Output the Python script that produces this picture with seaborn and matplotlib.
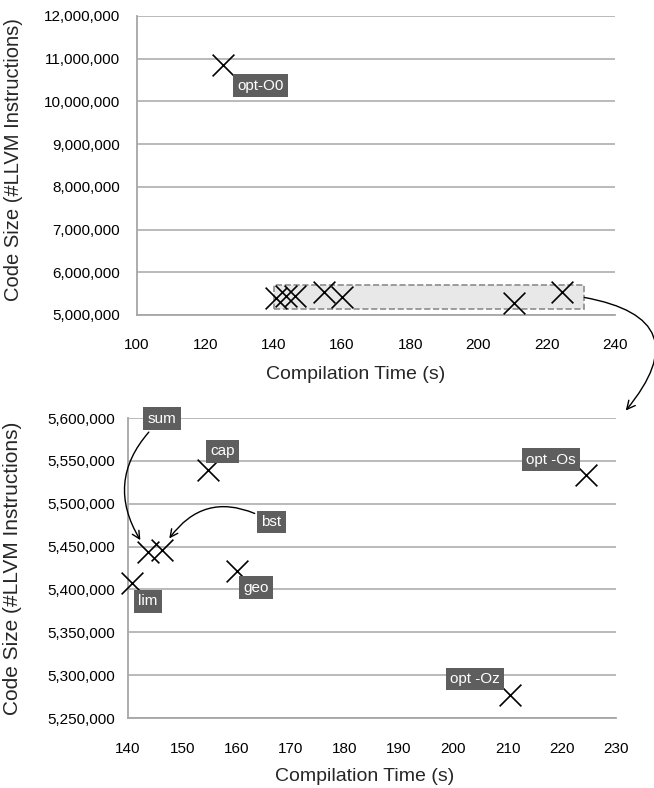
import numpy as np
import pandas as pd
import seaborn as sns
import matplotlib.pyplot as plt
from matplotlib.patches import Rectangle, ConnectionPatch
from matplotlib.ticker import FuncFormatter, MultipleLocator

# values
names = ['opt-O0', 'lim', 'sum', 'bst', 'cap', 'geo', 'opt -Oz', 'opt -Os']
comp_time = [125.2, 140.7, 143.7, 146.2, 154.8, 160.1, 210.4, 224.4]
code_size = [10860000, 5407000, 5444000, 5446000, 5539000, 5422000, 5277000, 5534000]

# label box offsets from the point (pixels) and arrow bend for the far ones
label_offset = {'opt-O0': (37, -21), 'lim': (16, -18), 'sum': (14, 133), 'bst': (110, 28),
                'cap': (14, 19), 'geo': (19, -17), 'opt -Oz': (-35, 16), 'opt -Os': (-35, 15)}
arrow_rad = {'sum': 0.45, 'bst': 0.5}

df = pd.DataFrame({'name': names, 'time': comp_time, 'size': code_size})
zoom_df = df[df['name'] != 'opt-O0']

sns.set_style('white')
plt.rcParams['font.family'] = ['Liberation Sans', 'DejaVu Sans']

fig = plt.figure(figsize=(6.54, 7.88), dpi=100)
ax1 = fig.add_axes([0.2095, 0.6003, 0.731, 0.3794])
ax2 = fig.add_axes([0.1957, 0.0888, 0.7462, 0.3807])


def style_axes(ax, ypad, xpad):
    ax.grid(axis='y', color='#b4b4b4', lw=1.3)
    ax.grid(axis='x', visible=False)
    ax.set_axisbelow(True)
    for s in ['top', 'right']:
        ax.spines[s].set_visible(False)
    for s in ['left', 'bottom']:
        ax.spines[s].set_color('#a6a6a6')
        ax.spines[s].set_linewidth(1.3)
    ax.tick_params(axis='both', direction='out', length=5, width=1.3, color='#a6a6a6',
                   labelsize=11, labelcolor='black')
    ax.tick_params(axis='y', pad=ypad)
    ax.tick_params(axis='x', pad=xpad)
    ax.yaxis.set_major_formatter(FuncFormatter(lambda v, p: f'{v:,.0f}'))


def add_label(ax, row):
    dx, dy = label_offset[row['name']]
    arrow = None
    if row['name'] in arrow_rad:
        arrow = dict(arrowstyle='->,head_length=0.5,head_width=0.25', color='black', lw=1,
                     shrinkB=10, connectionstyle=f"arc3,rad={arrow_rad[row['name']]}")
    ax.annotate(row['name'], xy=(row['time'], row['size']), xytext=(dx, dy),
                textcoords='offset pixels', ha='center', va='center', color='white',
                fontsize=11, zorder=5, arrowprops=arrow,
                bbox=dict(boxstyle='square,pad=0.28', fc='#5e5e5e', ec='none'))


# top: full view
ax1.add_patch(Rectangle((140, 5130000), 91, 560000, fc='#e8e8e8', ec='#8c8c8c',
                        ls='--', lw=1.2, zorder=2))
sns.scatterplot(data=df, x='time', y='size', marker='x', color='black', s=245,
                linewidth=1.2, ax=ax1, zorder=4, legend=False)
ax1.set_xlim(100, 240)
ax1.set_ylim(5000000, 12000000)
ax1.xaxis.set_major_locator(MultipleLocator(20))
ax1.yaxis.set_major_locator(MultipleLocator(1000000))
style_axes(ax1, 7, 11.5)
ax1.set_xlabel('Compilation Time (s)', fontsize=14)
ax1.set_ylabel('Code Size (#LLVM Instructions)', fontsize=14.5)
ax1.xaxis.set_label_coords(0.458, -0.172)
ax1.yaxis.set_label_coords(-0.238, 0.52)
add_label(ax1, df.iloc[0])

# bottom: zoomed view
sns.scatterplot(data=zoom_df, x='time', y='size', marker='x', color='black', s=245,
                linewidth=1.2, ax=ax2, zorder=4, legend=False)
ax2.collections[-1].set_clip_on(False)
ax2.set_xlim(140, 230)
ax2.set_ylim(5250000, 5600000)
ax2.xaxis.set_major_locator(MultipleLocator(10))
ax2.yaxis.set_major_locator(MultipleLocator(50000))
style_axes(ax2, 4, 12.5)
ax2.set_xlabel('Compilation Time (s)', fontsize=14)
ax2.set_ylabel('Code Size (#LLVM Instructions)', fontsize=15)
ax2.xaxis.set_label_coords(0.484, -0.165)
ax2.yaxis.set_label_coords(-0.217, 0.5)
for _, row in zoom_df.iterrows():
    add_label(ax2, row)

# arrow from the zoom box down to the zoomed chart
con = ConnectionPatch(xyA=(231, 5410000), coordsA='data', axesA=ax1,
                      xyB=(1.02, 1.025), coordsB='axes fraction', axesB=ax2,
                      arrowstyle='->,head_length=0.6,head_width=0.3', color='black', lw=1,
                      connectionstyle='arc3,rad=-0.85')
fig.add_artist(con)

plt.savefig('out.png', dpi=100)
